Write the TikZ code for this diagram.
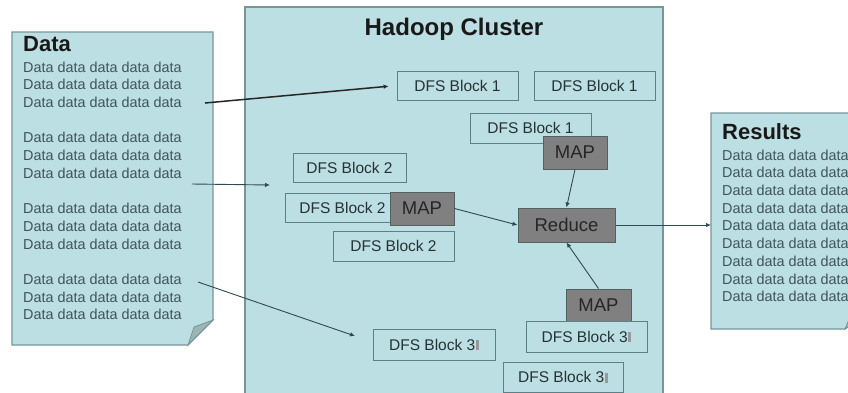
\documentclass[tikz,border=0pt]{standalone}
\usepackage{fontspec}
\setmainfont{Liberation Sans}
\usetikzlibrary{arrows.meta}
\definecolor{cfill}{HTML}{BCDFE3}
\definecolor{cborder}{HTML}{7A9498}
\definecolor{bborder}{HTML}{5E7F86}
\definecolor{mfill}{HTML}{808080}
\definecolor{mborder}{HTML}{556060}
\definecolor{txt}{HTML}{263235}
\definecolor{dtxt}{HTML}{3F5458}
\definecolor{arr}{HTML}{2F4A50}
\definecolor{foldc}{HTML}{9DB4B7}
\newcommand{\missbox}{\hspace{0.6bp}{\color{gray!80}\rule[0bp]{3bp}{10bp}}}
\begin{document}
\begin{tikzpicture}[x=1bp,y=-1bp,
  dfs/.style={draw=bborder, line width=0.9bp, fill=cfill, inner sep=0pt,
    minimum width=121bp, minimum height=30bp, text=txt,
    font=\fontsize{15.5bp}{18bp}\selectfont},
  mapbox/.style={draw=mborder, line width=1bp, fill=mfill, inner sep=0pt,
    minimum width=64bp, minimum height=33bp, text=black!85,
    font=\fontsize{18.5bp}{20bp}\selectfont},
  dline/.style={anchor=west, inner sep=0pt, text=dtxt,
    font=\fontsize{14.4bp}{17bp}\selectfont},
  ttl/.style={anchor=base west, inner sep=0pt, text=black!90,
    font=\fontsize{22bp}{24bp}\selectfont\bfseries},
  conn/.style={draw=arr, line width=0.9bp, -{Latex[length=5bp,width=4.5bp]}}
]
\useasboundingbox (0,0) rectangle (848,392);
\clip (0,0) rectangle (848,392);

% cluster
\draw[draw=cborder, line width=1.2bp, fill=cfill] (245,7) rectangle (663,400);
\node[anchor=base, inner sep=0pt, text=black!90,
  font=\fontsize{24bp}{26bp}\selectfont\bfseries] (hc) at (454,35) {Hadoop Cluster};

% data document
\draw[draw=cborder, line width=1.2bp, fill=cfill]
  (12,32) -- (213,32) -- (213,320) -- (188,345) -- (12,345) -- cycle;
\draw[draw=cborder, line width=0.8bp, fill=foldc] (188,345) -- (213,320) -- (194,327) -- cycle;
\node[ttl] (dtitle) at (23,51) {Data};
\foreach \k in {0,1,2,4,5,6,8,9,10,12,13,14} {
  \node[dline] (dl\k) at (23,{67+17.7*\k}) {Data data data data data};
}

% results document
\draw[draw=cborder, line width=1.2bp, fill=cfill]
  (711,113) -- (880,113) -- (880,304) -- (845,329) -- (711,329) -- cycle;
\draw[draw=cborder, line width=0.8bp, fill=foldc] (845,329) -- (880,304) -- (852,312) -- cycle;
\node[ttl] (rtitle) at (722,139) {Results};
\foreach \k in {0,...,8} {
  \node[dline] (rl\k) at (722,{155+17.7*\k}) {Data data data data};
}

% DFS blocks
\node[dfs, minimum height=29bp] (d1a) at (457.5,85.5) {DFS Block 1};
\node[dfs, minimum height=29bp] (d1b) at (594.5,85.5) {DFS Block 1};
\node[dfs] (d1c) at (530.5,128) {DFS Block 1};
\node[mapbox] (map1) at (575,152.5) {MAP};

\node[dfs, minimum width=113bp, minimum height=29bp] (d2a) at (349.5,167.5) {DFS Block 2};
\node[dfs, minimum width=115bp, minimum height=29bp] (d2b) at (342.5,207.5) {DFS Block 2};
\node[mapbox] (map2) at (422,208.5) {MAP};
\node[dfs] (d2c) at (393.5,246) {DFS Block 2};

\node[mapbox, minimum width=97bp, minimum height=34bp] (red) at (566.5,225) {Reduce};

\node[dfs, minimum width=122bp, minimum height=31bp] (d3a) at (434,344.5) {DFS Block 3\missbox};
\node[mapbox, minimum width=65bp] (map3) at (598.5,305.5) {MAP};
\node[dfs, minimum height=31bp] (d3b) at (586.5,336.5) {DFS Block 3\missbox};
\node[dfs, minimum width=120bp] (d3c) at (563,377) {DFS Block 3\missbox};

% connector end points
\coordinate (s1) at (205,103);
\coordinate (s2) at (192,184);
\coordinate (t2) at (270,185);
\coordinate (s3) at (198,282);
\coordinate (t3) at (355,336);
\coordinate (rin) at (711,225);

% connectors
\draw[conn, draw=black!85, line width=1.5bp, shorten >=8bp] (s1) -- (d1a.west);
\draw[conn] (s2) -- (t2);
\draw[conn] (s3) -- (t3);
\draw[conn] (map2.east) -- (red.west);
\draw[conn] (map1.south) -- (red.north);
\draw[conn] (map3.north) -- (red.south);
\draw[conn] (red.east) -- (rin);
\end{tikzpicture}
\end{document}
